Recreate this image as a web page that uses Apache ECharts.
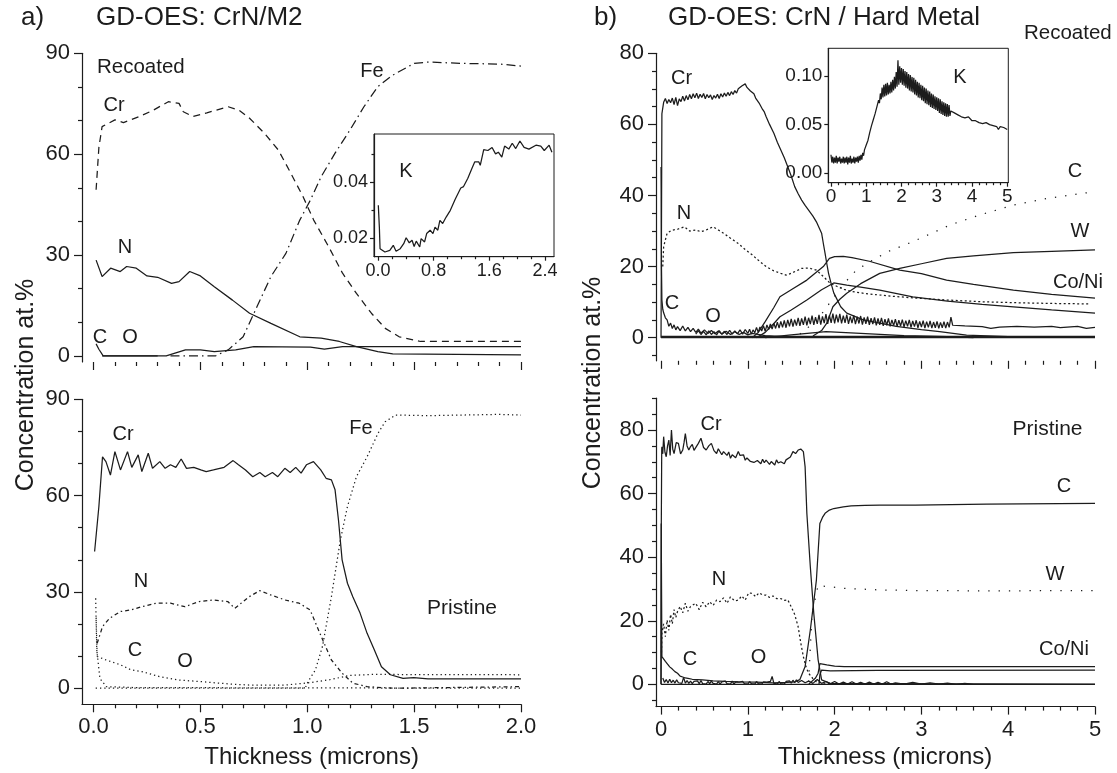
<!DOCTYPE html>
<html><head><meta charset="utf-8">
<script src="https://cdn.jsdelivr.net/npm/echarts@6/dist/echarts.min.js"></script>
<style>html,body{margin:0;padding:0;background:#fff}#c{width:1117px;height:773px}</style>
</head><body><div id="c"></div>
<script>
// ---------- tick values ----------
const xTicksA = [0, 0.5, 1.0, 1.5, 2.0];
const xMinorA = [0.1,0.2,0.3,0.4,0.6,0.7,0.8,0.9,1.1,1.2,1.3,1.4,1.6,1.7,1.8,1.9];
const yTicksA = [0, 30, 60, 90];
const yMinorA = [10,20,40,50,70,80];
const xTicksB = [0,1,2,3,4,5];
const xMinorB = [0.2,0.4,0.6,0.8,1.2,1.4,1.6,1.8,2.2,2.4,2.6,2.8,3.2,3.4,3.6,3.8,4.2,4.4,4.6,4.8];
const yTicksB = [0,20,40,60,80];
const yMinorB = [-5,5,10,15,25,30,35,45,50,55,65,70,75];
const yMinorB2 = [-5,5,10,15,25,30,35,45,50,55,65,70,75,85,90];
const xTicksKA = [0, 0.8, 1.6, 2.4];
const xMinorKA = [0.2,0.4,0.6,1.0,1.2,1.4,1.8,2.0,2.2];
const yTicksKA = [0.02, 0.04];
const yMinorKA = [0.03, 0.05];
const xTicksKB = [0,1,2,3,4,5];
const xMinorKB = xMinorB;
const yTicksKB = [0, 0.05, 0.10];

// ---------- a) CrN/M2, recoated ----------
const aRecCr = [[0.012,49.4],[0.025,62],[0.04,68.2],[0.1,70.2],[0.14,69.4],[0.215,71.2],[0.28,73.1],[0.35,75.6],[0.4,75.1],[0.42,72.6],[0.465,71.2],[0.53,72.3],[0.63,74.1],[0.68,73.1],[0.73,70.7],[0.8,66.2],[0.865,61.2],[0.915,55.3],[0.98,47.4],[1.03,40.4],[1.1,32.5],[1.165,24.6],[1.23,18.6],[1.3,12.7],[1.365,8.2],[1.43,5.7],[1.53,4.3],[2.0,4.3]];
const aRecFe = [[0.36,0],[0.57,0],[0.63,1.8],[0.7,5.7],[0.765,14.7],[0.83,23.6],[0.9,30.5],[0.965,40.4],[1.015,46.4],[1.065,53.3],[1.13,60.3],[1.2,67.2],[1.265,74.1],[1.33,80.1],[1.4,83.5],[1.5,87],[1.565,87.4],[1.73,87],[1.9,86.8],[2.0,86.2]];
const aRecN = [[0.012,28.5],[0.04,23.6],[0.08,26.1],[0.125,25.1],[0.155,26.6],[0.2,26.1],[0.25,23.8],[0.3,23.4],[0.365,21.6],[0.4,22.1],[0.45,25.1],[0.5,23.8],[0.565,20.6],[0.65,16.6],[0.73,12.7],[0.83,9.7],[0.965,5.7],[1.065,5.3],[1.15,4.3],[1.23,2.8],[1.33,1.3],[1.4,0.6],[2.0,0.3]];
const aRecO = [[0.04,0],[0.34,0],[0.43,1.8],[0.5,1.8],[0.565,1.3],[0.665,1.8],[0.75,2.8],[1.015,2.6],[1.08,2.0],[1.165,2.8],[1.4,2.8],[2.0,2.8]];
const aRecC = [[0.012,3.6],[0.025,2],[0.045,0],[0.3,0]];
const aRecK = [[0.005,0.0318],[0.02,0.024],[0.03,0.0163],[0.1,0.0151],[0.17,0.0157],[0.22,0.0175],[0.26,0.0154],[0.32,0.0163],[0.37,0.0181],[0.405,0.0202],[0.45,0.0184],[0.49,0.0193],[0.52,0.0171],[0.55,0.019],[0.6,0.0169],[0.62,0.0199],[0.67,0.0187],[0.7,0.0217],[0.75,0.0229],[0.79,0.0217],[0.82,0.024],[0.86,0.0229],[0.89,0.0264],[0.93,0.0253],[0.98,0.0276],[1.04,0.03],[1.11,0.034],[1.19,0.038],[1.23,0.0385],[1.29,0.0414],[1.35,0.045],[1.39,0.0473],[1.45,0.0473],[1.47,0.0461],[1.52,0.0517],[1.58,0.0514],[1.64,0.0525],[1.69,0.0502],[1.73,0.0508],[1.78,0.049],[1.82,0.053],[1.88,0.0519],[1.93,0.054],[1.98,0.0521],[2.04,0.0548],[2.1,0.0525],[2.17,0.0519],[2.27,0.0533],[2.34,0.053],[2.39,0.0514],[2.46,0.0533],[2.5,0.0508]];

// ---------- a) CrN/M2, pristine ----------
const aPriCr = [[0.005,42.6],[0.025,56.6],[0.042,72.1],[0.058,70.6],[0.079,66.4],[0.1,73.7],[0.126,68],[0.159,73.7],[0.179,68.8],[0.209,72.7],[0.226,67.5],[0.256,73.2],[0.276,68.5],[0.31,70.6],[0.335,68.5],[0.36,69.6],[0.385,68.8],[0.41,71.4],[0.435,68.5],[0.469,68.8],[0.502,68],[0.527,67.5],[0.561,68],[0.611,68.8],[0.653,70.9],[0.678,69.6],[0.711,68],[0.745,65.9],[0.778,67.2],[0.803,65.9],[0.837,67.2],[0.862,65.9],[0.895,68.5],[0.92,67.2],[0.946,68.8],[0.971,67],[0.996,69.6],[1.029,70.6],[1.063,68],[1.088,65.4],[1.113,64.9],[1.13,61.8],[1.146,52.4],[1.163,40],[1.188,32.7],[1.213,28.5],[1.247,23.4],[1.28,17.1],[1.314,11.9],[1.347,6.7],[1.389,4.2],[1.448,3.1],[1.498,3.3],[1.565,2.9],[2.0,2.9]];
const aPriFe = [[0.01,0],[0.99,0],[1.004,2.1],[1.038,5.7],[1.071,13],[1.113,28.5],[1.155,46.2],[1.188,56.6],[1.23,65.9],[1.28,72.1],[1.331,79.4],[1.364,83],[1.414,85.1],[1.565,84.9],[1.9,85.3],[2.0,85.1]];
const aPriN = [[0.017,14],[0.042,19.2],[0.075,21.8],[0.126,23.9],[0.176,24.4],[0.226,25.4],[0.293,26.5],[0.36,26.5],[0.427,25.4],[0.494,27],[0.561,27.5],[0.628,27],[0.661,24.9],[0.728,28.5],[0.778,30.4],[0.828,29.1],[0.895,27.5],[0.962,26.5],[1.013,24.4],[1.046,19.2],[1.079,14],[1.113,8.8],[1.163,4.7],[1.213,1.6],[1.28,0.5],[1.4,0],[2.0,0.5]];
const aPriC = [[0.012,22],[0.017,9.9],[0.059,8.8],[0.126,7.3],[0.176,5.7],[0.226,5.2],[0.31,3.6],[0.393,2.6],[0.494,2.1],[0.644,1.3],[0.728,1.0],[0.895,1.0],[0.996,1.6],[1.1,2.6],[1.2,4.0],[1.3,4.3],[2.0,4.2]];
const aPriO = [[0.01,28],[0.015,12],[0.03,3],[0.06,0.5],[0.2,0.2],[2.0,0]];

// ---------- b) CrN/hard metal, recoated ----------
const bRecCr = [[0.0,0],[0.005,30],[0.01,63],[0.03,66.2],[0.05,67.3],[0.07,65.9],[0.09,67.0],[0.11,66.1],[0.13,67.4],[0.15,65.6],[0.17,67.6],[0.19,65.3],[0.21,67.2],[0.23,66.4],[0.25,67.9],[0.27,66.6],[0.29,68.1],[0.31,66.9],[0.33,68.4],[0.35,67.2],[0.37,68.6],[0.39,67.5],[0.41,68.8],[0.43,67.3],[0.45,68.5],[0.47,67.6],[0.49,68.7],[0.51,67.2],[0.53,68.4],[0.55,67.5],[0.57,68.3],[0.59,67.0],[0.61,68.1],[0.63,67.4],[0.65,68.5],[0.67,67.3],[0.69,68.6],[0.71,67.7],[0.73,68.8],[0.75,67.9],[0.77,69.0],[0.79,68.1],[0.81,69.2],[0.83,68.4],[0.85,69.5],[0.87,68.8],[0.89,70.0],[0.91,69.5],[0.93,70.8],[0.95,70.3],[0.97,71.4],[0.99,70.4],[1.01,70.6],[1.03,69.4],[1.05,68.9],[1.07,68.6],[1.09,67.4],[1.11,67.1],[1.13,66.0],[1.15,65.5],[1.17,64.2],[1.19,63.5],[1.21,62.2],[1.25,60],[1.3,57.5],[1.34,55],[1.38,52.8],[1.42,50.6],[1.46,48.1],[1.5,45.5],[1.54,42.5],[1.58,40.5],[1.62,38.7],[1.66,37.2],[1.7,35.9],[1.75,34.2],[1.79,32.6],[1.82,31],[1.85,29.4],[1.87,26.5],[1.89,23.7],[1.91,20.8],[1.93,18.1],[1.96,15.2],[1.99,12.6],[2.07,8.7],[2.14,6.9],[2.33,5],[2.52,4.1],[2.71,3.2],[3.0,2.3],[3.21,1.7],[3.52,0.75],[4,0.3],[5,0.1]];
const bRecN = [[0.02,20],[0.03,25.6],[0.07,29.4],[0.12,30.2],[0.19,30.5],[0.27,31.2],[0.33,30],[0.4,30.3],[0.46,29.8],[0.52,30.3],[0.6,31.2],[0.66,30.3],[0.72,29.4],[0.8,28],[0.89,26.5],[0.97,24.8],[1.05,23.3],[1.13,21.6],[1.21,20],[1.3,18.8],[1.38,18.1],[1.44,17.6],[1.5,18.1],[1.56,18.8],[1.62,19.5],[1.7,19.6],[1.79,19],[1.87,17.2],[1.95,15.3],[2.03,14.4],[2.11,13.6],[2.19,13],[2.36,12.4],[2.6,11.8],[2.9,11.2],[3.3,10.6],[3.7,10.1],[4.15,9.8],[4.6,9.6],[4.95,9.5]];
const bRecCs = [[0,48],[0.005,20],[0.01,10.6],[0.02,8],[0.03,7],[0.05,5.6],[0.07,5],[0.09,3.2],[0.11,4.1],[0.13,2.6],[0.15,3.6],[0.17,2.2],[0.19,3.1],[0.22,2.0],[0.25,3.3],[0.28,1.9],[0.31,2.9],[0.34,1.7],[0.37,2.6],[0.4,1.5],[0.43,2.4],[0.46,1.3],[0.5,2.2],[0.54,1.2],[0.58,2.0],[0.62,1.1],[0.66,1.9],[0.7,1.0],[0.75,1.8],[0.8,0.9],[0.85,1.7],[0.9,0.9],[0.95,1.5],[1.0,0.8],[1.05,1.2],[1.2,0.6],[1.4,0.3],[1.5,0.2]];
const bRecC = [[1.6,1],[1.8,5],[1.95,10],[2.1,15],[2.25,19],[2.45,22],[2.64,24.5],[2.9,27],[3.33,31.7],[3.67,34.5],[4.06,37.3],[4.48,39.3],[4.88,40.7],[5,41]];
const bRecW = [[1.75,0.5],[1.85,2],[1.91,4.1],[1.98,8.7],[2.06,10.8],[2.14,12.5],[2.3,15.2],[2.52,18.1],[2.75,19.5],[3.0,20.8],[3.29,22.3],[3.6,23],[4.06,23.9],[4.5,24.3],[5,24.7]];
const bRecCoNi = [[1.05,0],[1.12,1.5],[1.2,4.5],[1.3,8.5],[1.37,11.5],[1.5,13.5],[1.68,16.2],[1.87,20],[1.94,22.3],[2.0,22.8],[2.1,22.9],[2.2,22.5],[2.4,21.5],[2.75,19],[3.0,18],[3.29,16.2],[3.6,15],[4.06,13.4],[4.5,12.2],[5,11.1]];
const bRecX = [[1.1,0],[1.2,1.5],[1.3,4],[1.37,5.9],[1.5,7.8],[1.68,10.6],[1.85,13.5],[1.99,15.4],[2.14,14.8],[2.3,14.2],[2.52,13.4],[2.9,11.5],[3.3,10.3],[3.7,9.4],[4.06,8.7],[4.5,7.8],[5,6.9]];
const bRecO = [[0.40,1.0],[0.43,2.0],[0.46,0.9],[0.49,1.8],[0.52,0.8],[0.55,1.9],[0.58,0.9],[0.61,1.7],[0.64,0.8],[0.67,2.0],[0.70,1.0],[0.73,1.8],[0.76,0.9],[0.79,2.1],[0.82,1.0],[0.85,1.9],[0.88,1.1],[0.91,2.2],[0.94,1.0],[0.97,2.3],[1.00,1.2],[1.02,2.4],[1.04,1.0],[1.06,2.2],[1.08,1.4],[1.10,2.9],[1.12,1.5],[1.14,3.0],[1.16,1.9],[1.18,3.4],[1.20,1.8],[1.22,3.6],[1.24,2.3],[1.26,3.9],[1.28,2.4],[1.30,4.1],[1.32,2.6],[1.34,4.4],[1.36,2.7],[1.38,4.6],[1.40,2.9],[1.42,4.9],[1.44,2.8],[1.46,5.0],[1.48,3.2],[1.50,5.3],[1.52,3.1],[1.54,5.1],[1.56,3.4],[1.58,5.6],[1.60,3.3],[1.62,5.4],[1.64,3.6],[1.66,5.9],[1.68,3.5],[1.70,5.6],[1.72,3.8],[1.74,6.2],[1.76,3.6],[1.78,5.8],[1.80,3.9],[1.82,6.4],[1.84,3.7],[1.86,6.0],[1.88,4.1],[1.90,6.6],[1.92,3.9],[1.94,6.3],[1.96,4.2],[1.98,6.8],[2.00,4.0],[2.02,6.5],[2.04,4.3],[2.06,6.7],[2.08,4.0],[2.10,6.2],[2.12,4.2],[2.14,6.5],[2.16,3.9],[2.18,6.0],[2.20,4.1],[2.22,6.3],[2.24,3.8],[2.26,5.9],[2.28,4.0],[2.30,6.1],[2.32,3.7],[2.34,5.7],[2.36,3.9],[2.38,5.9],[2.40,3.6],[2.42,5.5],[2.44,3.8],[2.46,5.7],[2.48,3.5],[2.50,5.4],[2.52,3.6],[2.54,5.6],[2.56,3.3],[2.58,5.2],[2.60,3.5],[2.62,5.4],[2.64,3.2],[2.66,5.0],[2.68,3.4],[2.70,5.2],[2.72,3.1],[2.74,4.9],[2.76,3.3],[2.78,5.1],[2.80,3.0],[2.82,4.8],[2.84,3.2],[2.86,5.0],[2.88,2.9],[2.90,4.7],[2.92,3.1],[2.94,4.9],[2.96,2.8],[2.98,4.6],[3.00,3.0],[3.02,4.8],[3.04,2.7],[3.06,4.5],[3.08,2.9],[3.10,4.7],[3.12,2.7],[3.14,4.4],[3.16,2.8],[3.18,4.6],[3.20,2.6],[3.22,4.3],[3.24,2.8],[3.26,4.5],[3.28,2.7],[3.30,4.4],[3.32,2.9],[3.34,5.8],[3.36,3.5],[3.5,3.3],[3.7,3.1],[3.8,2.6],[3.9,3.0],[4.1,3.2],[4.3,3.0],[4.5,3.2],[4.6,2.8],[4.8,3.2],[4.9,2.6],[5.0,2.9]];
const bRecLow = [[1.2,0],[1.5,0.8],[1.9,1.7],[2.3,1.2],[2.8,0.6],[3.3,0.3],[3.6,0]];
const bRecBase = [[0,0.2],[5,0.2]];
const bRecK = [[0.000,0.019],[0.025,0.011],[0.050,0.017],[0.075,0.010],[0.100,0.016],[0.125,0.011],[0.150,0.018],[0.175,0.010],[0.200,0.016],[0.225,0.012],[0.250,0.017],[0.275,0.010],[0.300,0.015],[0.325,0.011],[0.350,0.017],[0.375,0.010],[0.400,0.016],[0.425,0.011],[0.450,0.017],[0.475,0.009],[0.500,0.016],[0.525,0.011],[0.550,0.018],[0.575,0.010],[0.600,0.015],[0.625,0.011],[0.650,0.017],[0.675,0.010],[0.700,0.016],[0.725,0.012],[0.750,0.017],[0.775,0.011],[0.800,0.018],[0.825,0.013],[0.850,0.019],[0.875,0.014],[0.900,0.021],[0.925,0.018],[0.950,0.024],[0.975,0.022],[1.000,0.029],[1.025,0.027],[1.050,0.034],[1.075,0.033],[1.100,0.042],[1.125,0.040],[1.150,0.049],[1.175,0.047],[1.200,0.055],[1.225,0.053],[1.250,0.061],[1.275,0.060],[1.300,0.068],[1.325,0.066],[1.350,0.075],[1.375,0.072],[1.400,0.082],[1.425,0.076],[1.450,0.088],[1.475,0.078],[1.500,0.091],[1.525,0.079],[1.550,0.092],[1.575,0.080],[1.600,0.093],[1.625,0.081],[1.650,0.091],[1.675,0.082],[1.700,0.094],[1.725,0.083],[1.750,0.096],[1.775,0.085],[1.800,0.099],[1.825,0.087],[1.850,0.104],[1.875,0.089],[1.900,0.116],[1.925,0.091],[1.950,0.110],[1.975,0.093],[2.000,0.108],[2.025,0.091],[2.050,0.107],[2.075,0.090],[2.100,0.105],[2.125,0.088],[2.150,0.104],[2.175,0.087],[2.200,0.102],[2.225,0.085],[2.250,0.101],[2.275,0.084],[2.300,0.099],[2.325,0.083],[2.350,0.098],[2.375,0.081],[2.400,0.096],[2.425,0.080],[2.450,0.094],[2.475,0.078],[2.500,0.093],[2.525,0.077],[2.550,0.091],[2.575,0.075],[2.600,0.090],[2.625,0.074],[2.650,0.088],[2.675,0.072],[2.700,0.087],[2.725,0.071],[2.750,0.085],[2.775,0.070],[2.800,0.084],[2.825,0.068],[2.850,0.082],[2.875,0.067],[2.900,0.081],[2.925,0.066],[2.950,0.079],[2.975,0.065],[3.000,0.078],[3.025,0.064],[3.050,0.077],[3.075,0.062],[3.100,0.076],[3.125,0.061],[3.150,0.074],[3.175,0.060],[3.200,0.073],[3.225,0.059],[3.250,0.072],[3.275,0.058],[3.300,0.071],[3.325,0.058],[3.350,0.070],[3.375,0.059],[3.400,0.064],[3.5,0.062],[3.6,0.060],[3.7,0.058],[3.8,0.057],[3.9,0.058],[4.0,0.054],[4.1,0.054],[4.2,0.052],[4.3,0.051],[4.4,0.052],[4.5,0.050],[4.6,0.049],[4.7,0.048],[4.75,0.045],[4.8,0.048],[4.9,0.047],[5.0,0.045]];

// ---------- b) CrN/hard metal, pristine ----------
const bPriCr = [[0,0],[0.003,50],[0.008,74],[0.01,74.7],[0.02,72.5],[0.03,77.9],[0.045,73],[0.06,71.6],[0.075,75],[0.09,76.8],[0.105,72],[0.12,80],[0.135,74],[0.15,72.6],[0.175,76],[0.2,75.8],[0.225,72.5],[0.25,73.7],[0.265,76],[0.28,78.9],[0.3,75],[0.32,73.7],[0.34,74.8],[0.36,75.5],[0.38,73.6],[0.4,74.2],[0.43,75.8],[0.46,77.4],[0.49,74.5],[0.52,73.7],[0.55,75],[0.58,75.8],[0.61,73.5],[0.64,72.6],[0.66,74.1],[0.68,73.8],[0.7,72.2],[0.72,73.2],[0.74,72.6],[0.76,72],[0.78,73.1],[0.8,71.1],[0.82,72.2],[0.84,72.5],[0.86,71.3],[0.89,73.2],[0.91,72.0],[0.93,71.5],[0.95,72.2],[0.97,70.5],[0.99,71.2],[1.01,71.8],[1.03,70.1],[1.05,70.5],[1.07,69.8],[1.09,69.2],[1.11,70.4],[1.13,70],[1.15,69.4],[1.17,70.8],[1.19,69.7],[1.21,70.5],[1.23,69.9],[1.25,69.2],[1.27,70.1],[1.29,69.5],[1.31,69.0],[1.33,70.6],[1.35,69.6],[1.38,70],[1.4,69.5],[1.42,69.4],[1.44,70.6],[1.46,70.3],[1.49,71.5],[1.52,73.2],[1.55,72.6],[1.58,73.7],[1.61,74],[1.64,73.2],[1.66,68.4],[1.68,53.8],[1.72,37],[1.76,22.3],[1.81,7.7],[1.85,1.4],[1.95,0.3],[5,0]];
const bPriC = [[0,0],[0.002,50.6],[0.01,8.7],[0.03,8.2],[0.05,7.2],[0.07,6.6],[0.1,5.5],[0.13,4.8],[0.16,4.0],[0.19,3.5],[0.22,2.6],[0.25,2.3],[0.28,2.0],[0.31,1.9],[0.36,1.6],[0.42,1.5],[0.48,1.4],[0.6,1.1],[0.75,0.9],[0.89,0.8],[1.1,0.7],[1.29,0.5],[1.45,0.6],[1.54,0.8],[1.6,1.5],[1.66,5.6],[1.72,17.1],[1.79,32.8],[1.83,50.6],[1.86,52.5],[1.89,53.8],[1.94,54.8],[1.99,55.3],[2.1,55.8],[2.19,56.1],[2.35,56.3],[2.52,56.4],[2.93,56.4],[3.75,56.7],[5,56.9]];
const bPriN = [[0.005,10],[0.01,16],[0.03,19],[0.05,15],[0.07,20.2],[0.09,17],[0.11,22],[0.13,19],[0.15,23.5],[0.17,21],[0.19,22.9],[0.22,24.5],[0.25,22.5],[0.28,25.5],[0.31,23],[0.34,24.5],[0.36,23.9],[0.4,25.5],[0.44,23.5],[0.48,25.8],[0.52,24.4],[0.56,26],[0.6,24.8],[0.64,26.5],[0.68,26],[0.72,27.2],[0.76,25.5],[0.8,27.5],[0.85,26.2],[0.89,26.5],[0.93,27.8],[0.97,26.5],[1.01,28.8],[1.05,28.6],[1.09,27.6],[1.13,28.8],[1.17,28.1],[1.21,28.1],[1.25,27.3],[1.29,27.8],[1.33,27],[1.38,27],[1.42,26.4],[1.46,26.6],[1.5,24.4],[1.54,22],[1.58,18.1],[1.61,13],[1.64,8.7],[1.67,5.5],[1.7,3.5],[1.75,1.8],[1.79,0.8],[1.9,0.3],[2.11,0.1]];
const bPriW = [[1.7,0.8],[1.74,22.3],[1.81,31.2],[1.87,30.9],[2.11,30.2],[2.52,29.7],[2.93,29.5],[3.75,29.4],[4.89,29.5],[5,29.5]];
const bPriCoNi = [[1.7,0],[1.78,2],[1.81,3.5],[1.83,6.5],[1.85,7.1],[1.91,6.1],[2.0,5.7],[2.11,5.6],[5,5.6]];
const bPriX = [[1.82,0],[1.83,3],[1.85,4.5],[1.95,4.2],[2.5,4.4],[5,4.5]];
const bPriO = [[0.02,2],[0.04,0.6],[0.06,1.5],[0.08,0.4],[0.1,1.6],[0.12,0.5],[0.14,1.3],[0.16,0.4],[0.18,1.4],[0.2,0.5],[0.22,1.1],[0.24,0.3],[0.26,2.2],[0.28,0.4],[0.3,1.2],[0.32,0.3],[0.34,1.0],[0.36,0.2],[0.38,0.9],[0.4,0.3],[0.42,1.1],[0.44,0.2],[0.46,1.2],[0.48,0.2],[0.5,0.8],[0.52,0.1],[0.54,0.9],[0.56,0.2],[0.58,1.0],[0.6,0.3],[0.62,0.8],[0.64,0.1],[0.66,0.9],[0.68,0.1],[0.7,0.8],[0.72,0.2],[0.74,1.0],[0.76,0.2],[0.78,0.7],[0.8,0.1],[0.82,1.0],[0.84,0.1],[0.86,0.8],[0.88,0.2],[0.9,0.7],[0.92,0.1],[0.94,0.9],[0.96,0.2],[0.98,0.8],[1.0,0.1],[1.02,0.9],[1.04,0.2],[1.06,0.8],[1.08,0.1],[1.1,0.9],[1.12,0.2],[1.14,0.7],[1.16,0.1],[1.18,0.8],[1.2,0.2],[1.22,0.7],[1.24,0.1],[1.26,0.9],[1.28,2.5],[1.3,0.3],[1.32,0.8],[1.34,0.1],[1.36,0.9],[1.38,0.2],[1.4,0.8],[1.42,0.1],[1.44,0.9],[1.46,0.3],[1.48,1.1],[1.5,0.4],[1.52,1.3],[1.54,0.5],[1.56,1.4],[1.58,0.6],[1.62,1.2],[1.66,0.5],[1.7,1.0],[1.75,0.3],[1.8,1.5],[1.85,0.3],[1.9,0.9],[1.95,0.2],[2.0,0.9],[2.05,0.1],[2.1,0.7],[2.15,0.1],[2.2,0.8],[2.25,0.1],[2.3,0.6],[2.35,0.1],[2.4,0.7],[2.45,0.1],[2.5,0.6],[2.55,0.1],[2.6,0.8],[2.65,0.1],[2.7,0.5],[2.8,0.1],[2.9,0.6],[3.0,0.1],[3.1,0.5],[3.2,0.1],[3.3,0.4],[3.4,0],[3.5,0.3],[3.6,0],[5,0]];
const bPriBase = [[0,0],[5,0]];

// ---------- layout ----------
const FONT = "'Liberation Sans', Arial, Helvetica, sans-serif";
const INK = '#1c1c1c';
const LW = 1.25;
const grids = [
  {left:82, top:53.3, width:439, height:308.7},
  {left:82, top:399.3, width:439, height:305},
  {left:656, top:53.3, width:439, height:307.5},
  {left:656, top:398.2, width:439, height:308.4},
  {left:374, top:134, width:180, height:122.7, show:true, borderColor:INK, borderWidth:1, backgroundColor:'#fff'},
  {left:828.3, top:48.3, width:180, height:134.4, show:true, borderColor:INK, borderWidth:1, backgroundColor:'#fff'}
];
const ranges = [
  {x:[-0.054,2.0], y:[-1.8,90], xt:xTicksA, xm:xMinorA, yt:yTicksA, ym:yMinorA, xl:false, xline:false, fx:v=>v.toFixed(1), fy:v=>String(v), fs:22, tl:8, ml:4},
  {x:[-0.054,2.0], y:[-5,90], xt:xTicksA, xm:xMinorA, yt:yTicksA, ym:yMinorA, xl:true, xline:true, fx:v=>v.toFixed(1), fy:v=>String(v), fs:22, tl:8, ml:4},
  {x:[-0.058,5], y:[-6.5,80], xt:xTicksB, xm:xMinorB, yt:yTicksB, ym:yMinorB, xl:false, xline:false, fx:v=>String(v), fy:v=>String(v), fs:22, tl:8, ml:4},
  {x:[-0.058,5], y:[-7,90], xt:xTicksB, xm:xMinorB, yt:yTicksB, ym:yMinorB2, xl:true, xline:true, fx:v=>String(v), fy:v=>String(v), fs:22, tl:8, ml:4},
  {x:[-0.057,2.53], y:[0.01343,0.0573], xt:xTicksKA, xm:xMinorKA, yt:yTicksKA, ym:yMinorKA, xl:true, xline:true, fx:v=>v.toFixed(1), fy:v=>v.toFixed(2), fs:18, tl:4, ml:2.5, inset:true},
  {x:[-0.076,5.03], y:[-0.0097,0.1284], xt:xTicksKB, xm:xMinorKB, yt:yTicksKB, ym:[], xl:true, xline:true, fx:v=>String(v), fy:v=>v.toFixed(2), fs:19, tl:4, ml:2.5, inset:true}
];
const xAxes = [], yAxes = [];
ranges.forEach((r, g) => {
  const ls = {color: INK, width: 1.2};
  xAxes.push({gridIndex:g, type:'value', position:'bottom', min:r.x[0], max:r.x[1],
    axisLine:{show:r.xline, lineStyle:ls, onZero:false},
    axisTick:{show:true, customValues:r.xt, length:r.tl, lineStyle:ls},
    axisLabel:{show:r.xl, customValues:r.xt, formatter:r.fx, color:INK, fontFamily:FONT, fontSize:r.fs, margin:r.inset?5:12},
    splitLine:{show:false}});
  xAxes.push({gridIndex:g, type:'value', position:'bottom', min:r.x[0], max:r.x[1],
    axisLine:{show:false, onZero:false},
    axisTick:{show:true, customValues:r.xm, length:r.ml, lineStyle:ls},
    axisLabel:{show:false}, splitLine:{show:false}});
  yAxes.push({gridIndex:g, type:'value', position:'left', min:r.y[0], max:r.y[1],
    axisLine:{show:true, lineStyle:ls, onZero:false},
    axisTick:{show:true, customValues:r.yt, length:r.tl, lineStyle:ls},
    axisLabel:{show:true, customValues:r.yt, formatter:r.fy, color:INK, fontFamily:FONT, fontSize:r.fs, margin:r.inset?6:12},
    splitLine:{show:false}});
  yAxes.push({gridIndex:g, type:'value', position:'left', min:r.y[0], max:r.y[1],
    axisLine:{show:false, onZero:false},
    axisTick:{show:r.ym.length>0, customValues:r.ym.length?r.ym:[r.y[0]], length:r.ml, lineStyle:ls},
    axisLabel:{show:false}, splitLine:{show:false}});
});

function S(g, data, type, width) {
  return {type:'line', xAxisIndex:2*g, yAxisIndex:2*g, data:data, showSymbol:false, symbol:'none',
    lineStyle:{color:INK, width:width||LW, type:type||'solid'}, silent:true, animation:false, z:3};
}
const DASH = [7,5], DASHDOT = [9,4,1.5,4], DOT = [1.3,3], SPARSE = [1.3,9], NDOT = [2,2.5], NDD = [4,3,1.5,3];
const series = [
  S(0,aRecCr,DASH), S(0,aRecFe,DASHDOT), S(0,aRecN), S(0,aRecO), S(0,aRecC),
  S(1,aPriCr), S(1,aPriFe,DOT), S(1,aPriN,NDD), S(1,aPriC,DOT), S(1,aPriO,DOT),
  S(2,bRecCr), S(2,bRecN,NDOT), S(2,bRecCs), S(2,bRecC,SPARSE), S(2,bRecW), S(2,bRecCoNi), S(2,bRecX), S(2,bRecO), S(2,bRecLow), S(2,bRecBase,'solid',2.5),
  S(3,bPriCr), S(3,bPriC), S(3,bPriN,NDOT), S(3,bPriW,SPARSE), S(3,bPriCoNi), S(3,bPriX), S(3,bPriO), S(3,bPriBase),
  S(4,aRecK), S(5,bRecK)
];

function T(text, x, y, size, align, rot) {
  return {type:'text', x:x, y:y, rotation:rot||0, z:10,
    style:{text:text, fill:INK, font:'normal ' + size + 'px ' + FONT, textAlign:align||'center', textVerticalAlign:'middle', align:align||'center', verticalAlign:'middle'}};
}
const texts = [
  T('a)', 21, 17.5, 26, 'left'), T('GD-OES: CrN/M2', 96, 17.5, 26, 'left'),
  T('Recoated', 97, 67, 20.5, 'left'),
  T('Cr', 114, 105, 20), T('Fe', 372, 71, 20), T('N', 125, 247, 20), T('C', 100, 337, 20), T('O', 130, 337, 20), T('K', 406, 171, 20),
  T('Cr', 123, 434, 20), T('Fe', 361, 428, 20), T('N', 141, 581, 20), T('C', 135, 650, 20), T('O', 185, 661, 20),
  T('Pristine', 462, 608, 21), T('Thickness (microns)', 311.6, 757, 24),
  T('Concentration at.%', 26, 385, 25, 'center', Math.PI/2),
  T('b)', 594, 17.5, 26, 'left'), T('GD-OES: CrN / Hard Metal', 668, 17.5, 26, 'left'),
  T('Recoated', 1024, 33, 20.5, 'left'),
  T('Cr', 681.5, 78, 20), T('N', 684, 213, 20), T('C', 672, 303, 20), T('O', 713, 316, 20), T('K', 960, 77.5, 20),
  T('C', 1075, 171, 20), T('W', 1080, 231, 20), T('Co/Ni', 1078, 282, 20),
  T('Cr', 711, 424, 20), T('Pristine', 1047.5, 429, 21), T('C', 1064, 486, 20), T('N', 719, 579, 20), T('W', 1055, 574, 20),
  T('C', 690, 659, 20), T('O', 758.5, 657, 20), T('Co/Ni', 1064, 649, 20),
  T('Thickness (microns)', 885, 757, 24),
  T('Concentration at.%', 593, 383, 25, 'center', Math.PI/2)
];

const chart = echarts.init(document.getElementById('c'), null, {renderer:'canvas'});
chart.setOption({
  animation:false, backgroundColor:'#fff',
  grid:grids, xAxis:xAxes, yAxis:yAxes, series:series, graphic:{elements:texts}
});
</script>
</body></html>
